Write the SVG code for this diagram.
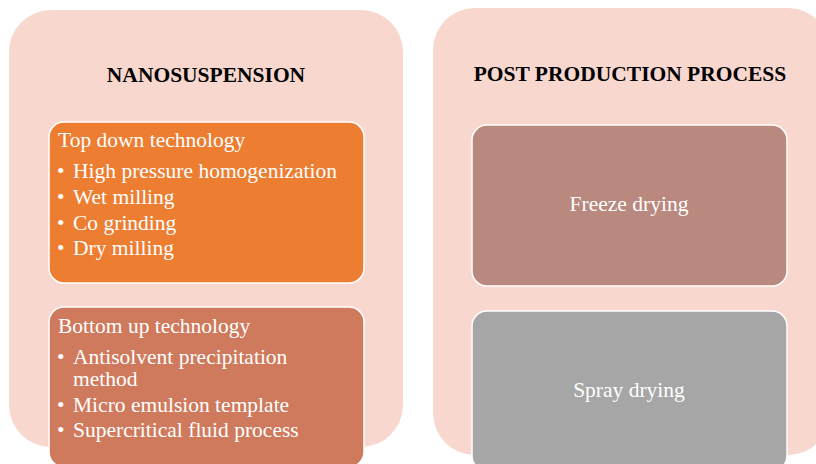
<svg xmlns="http://www.w3.org/2000/svg" width="816" height="464" viewBox="0 0 816 464">
<style>
.panel{fill:#F8D7CF;}
.box{stroke:#FFFFFF;stroke-width:1.5;}
.title{font-family:"Liberation Serif","Times New Roman",serif;font-weight:bold;font-size:21.5px;fill:#000;text-anchor:middle;}
.t{font-family:"Liberation Serif","Times New Roman",serif;font-size:21.5px;fill:#FFFFFF;}
.c{text-anchor:middle;}
</style>
<rect width="816" height="464" fill="#FFFFFF"/>
<g id="panel-nanosuspension">
<rect class="panel" x="9" y="10" width="394" height="437" rx="42"/>
<text class="title" x="206" y="82">NANOSUSPENSION</text>
</g>
<g id="panel-post-production">
<rect class="panel" x="433" y="8" width="397" height="447" rx="42"/>
<text class="title" x="630" y="81">POST PRODUCTION PROCESS</text>
</g>
<g id="node-top-down">
<rect class="box" x="49" y="122" width="315" height="161" rx="15" fill="#ED7D31"/>
<text class="t" x="58" y="147">Top down technology</text>
<text class="t" x="57" y="178">•</text><text class="t" x="73" y="178">High pressure homogenization</text>
<text class="t" x="57" y="204">•</text><text class="t" x="73" y="204">Wet milling</text>
<text class="t" x="57" y="230">•</text><text class="t" x="73" y="230">Co grinding</text>
<text class="t" x="57" y="255">•</text><text class="t" x="73" y="255">Dry milling</text>
</g>
<g id="node-bottom-up">
<rect class="box" x="49" y="307" width="315" height="160" rx="15" fill="#CF7A5C"/>
<text class="t" x="58" y="333">Bottom up technology</text>
<text class="t" x="57" y="364">•</text><text class="t" x="73" y="364">Antisolvent precipitation</text>
<text class="t" x="73" y="386">method</text>
<text class="t" x="57" y="412">•</text><text class="t" x="73" y="412">Micro emulsion template</text>
<text class="t" x="57" y="437">•</text><text class="t" x="73" y="437">Supercritical fluid process</text>
</g>
<g id="node-freeze-drying">
<rect class="box" x="472" y="125" width="315" height="161" rx="15" fill="#B9887E"/>
<text class="t c" x="629" y="211">Freeze drying</text>
</g>
<g id="node-spray-drying">
<rect class="box" x="472" y="311" width="315" height="160" rx="15" fill="#A6A6A6"/>
<text class="t c" x="629" y="397">Spray drying</text>
</g>
<g id="connectors"></g>
</svg>
